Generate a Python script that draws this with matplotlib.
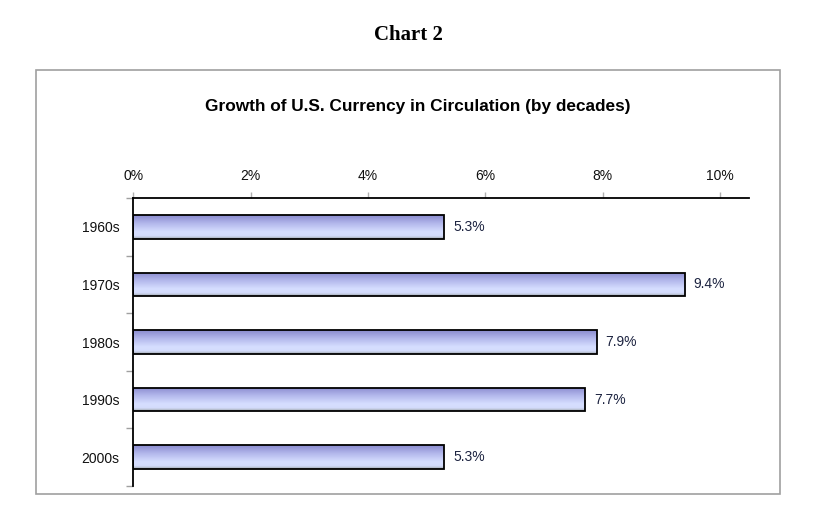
import numpy as np
import matplotlib.pyplot as plt
from matplotlib.colors import LinearSegmentedColormap
from matplotlib.patches import Rectangle

# Data
decades = ['1960s', '1970s', '1980s', '1990s', '2000s']
growth = [5.3, 9.4, 7.9, 7.7, 5.3]
xticks = [0, 2, 4, 6, 8, 10]
xtick_labels = ['0%', '2%', '4%', '6%', '8%', '10%']

fig = plt.figure(figsize=(8.15, 5.2), dpi=100)
fig.patch.set_facecolor('white')

# outer frame around the chart
frame = Rectangle((35.5 / 815, 1 - 494 / 520), (779.5 - 35.5) / 815, (494 - 69.5) / 520,
                  transform=fig.transFigure, fill=False, edgecolor='#a0a0a0', linewidth=1.2)
fig.patches.append(frame)

fig.text(408 / 815, 1 - 35 / 520, 'Chart 2', ha='center', va='center',
         fontsize=15, fontweight='bold', family='Liberation Serif')
fig.text(418 / 815, 1 - 107 / 520, 'Growth of U.S. Currency in Circulation (by decades)',
         ha='center', va='center', fontsize=12.4, fontweight='bold', family='Liberation Sans')

ax = fig.add_axes([133.3 / 815, 34 / 520, 616 / 815, 288 / 520])
ax.set_xlim(0, 10.5)
ax.set_ylim(4.5, -0.5)

y = np.arange(len(decades))
bar_h = 0.41
bars = ax.barh(y, growth, height=bar_h, color='none', edgecolor='black', linewidth=1.3, zorder=3)

# vertical gradient inside each bar
grad_cmap = LinearSegmentedColormap.from_list('bar', [
    (0.0, '#8a8bcf'), (0.35, '#b3b8ec'), (0.7, '#d6deff'),
    (0.88, '#d4dcfc'), (1.0, '#9fa8ac')])
grad = np.linspace(0, 1, 64).reshape(-1, 1)
for b in bars:
    x0, y0 = b.get_x(), b.get_y()
    w, h = b.get_width(), b.get_height()
    im = ax.imshow(grad, cmap=grad_cmap, aspect='auto', extent=(x0, x0 + w, y0 + h, y0),
                   origin='upper', zorder=2, interpolation='bilinear')
    im.set_clip_path(b)

for yi, v in zip(y, growth):
    ax.text(v + 0.15, yi, f'{v:.1f}%', va='center', ha='left', fontsize=10,
            color='#1c2340', family='Liberation Sans')

ax.xaxis.tick_top()
ax.set_xticks(xticks)
ax.set_xticklabels(xtick_labels, fontsize=10, family='Liberation Sans', color='#111111')
ax.tick_params(axis='x', length=4, width=1, color='#b0b0b0', pad=7)

# category labels at centers, tick marks between categories
ax.set_yticks(y)
ax.set_yticklabels(decades, fontsize=10, family='Liberation Sans', color='#111111')
ax.tick_params(axis='y', which='major', length=0, pad=10)
ax.set_yticks(np.arange(-0.5, 5.0, 1.0), minor=True)
ax.tick_params(axis='y', which='minor', length=5, width=1, color='#a0a0a0')

for s in ['right', 'bottom']:
    ax.spines[s].set_visible(False)
ax.spines['top'].set_linewidth(1.3)
ax.spines['left'].set_linewidth(1.3)

plt.savefig('out.png', dpi=100, facecolor='white')
plt.close()
